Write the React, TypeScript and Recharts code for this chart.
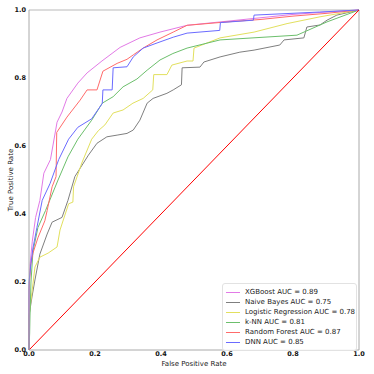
import { LineChart, Line, XAxis, YAxis, ReferenceLine } from 'recharts';

// ROC points as [false positive rate, true positive rate]
const xgboost = [
  [0, 0], [0, 0.15], [0.003, 0.25], [0.01, 0.32], [0.02, 0.39], [0.033, 0.44], [0.045, 0.52],
  [0.065, 0.56], [0.085, 0.67], [0.1, 0.7], [0.115, 0.74], [0.148, 0.785], [0.176, 0.815],
  [0.221, 0.85], [0.276, 0.89], [0.336, 0.918], [0.397, 0.935], [0.479, 0.955], [0.6, 0.967],
  [0.7, 0.977], [0.8, 0.987], [0.9, 0.994], [1, 1],
];
const naiveBayes = [
  [0, 0], [0, 0.1], [0.009, 0.156], [0.018, 0.206], [0.033, 0.282], [0.055, 0.341], [0.07, 0.376],
  [0.1, 0.39], [0.118, 0.44], [0.139, 0.51], [0.165, 0.55], [0.18, 0.573], [0.206, 0.608],
  [0.236, 0.627], [0.267, 0.632], [0.297, 0.637], [0.316, 0.647], [0.336, 0.676], [0.358, 0.726],
  [0.376, 0.74], [0.418, 0.755], [0.437, 0.765], [0.462, 0.78], [0.464, 0.83], [0.518, 0.832],
  [0.53, 0.847], [0.579, 0.862], [0.639, 0.876], [0.682, 0.882], [0.76, 0.897], [0.773, 0.912],
  [0.833, 0.918], [0.842, 0.95], [0.882, 0.956], [0.903, 0.97], [0.933, 0.985], [1, 1],
];
const logistic = [
  [0, 0], [0, 0.1], [0.009, 0.17], [0.018, 0.244], [0.033, 0.273], [0.058, 0.285], [0.085, 0.303],
  [0.094, 0.353], [0.12, 0.43], [0.133, 0.435], [0.135, 0.48], [0.16, 0.55], [0.19, 0.62],
  [0.21, 0.645], [0.23, 0.662], [0.255, 0.697], [0.285, 0.706], [0.315, 0.726], [0.346, 0.74],
  [0.375, 0.765], [0.378, 0.81], [0.418, 0.81], [0.433, 0.838], [0.479, 0.85], [0.497, 0.85],
  [0.5, 0.888], [0.579, 0.918], [0.682, 0.935], [0.782, 0.96], [0.882, 0.98], [1, 1],
];
const knn = [
  [0, 0], [0.002, 0.05], [0.003, 0.1], [0.006, 0.2], [0.012, 0.29], [0.027, 0.36], [0.05, 0.41],
  [0.088, 0.5], [0.118, 0.568], [0.148, 0.62], [0.19, 0.676], [0.222, 0.726], [0.255, 0.745],
  [0.285, 0.774], [0.327, 0.797], [0.358, 0.823], [0.397, 0.853], [0.436, 0.872], [0.479, 0.888],
  [0.579, 0.912], [0.812, 0.926], [0.903, 0.965], [1, 1],
];
const randomForest = [
  [0, 0], [0, 0.18], [0.005, 0.25], [0.012, 0.285], [0.027, 0.33], [0.048, 0.38], [0.055, 0.41],
  [0.07, 0.48], [0.082, 0.51], [0.084, 0.64], [0.115, 0.685], [0.155, 0.735], [0.176, 0.765],
  [0.206, 0.765], [0.224, 0.82], [0.267, 0.843], [0.297, 0.855], [0.316, 0.868], [0.346, 0.888],
  [0.388, 0.912], [0.437, 0.935], [0.479, 0.955], [0.6, 0.965], [0.7, 0.972], [0.8, 0.982],
  [0.9, 0.99], [1, 1],
];
const dnn = [
  [0, 0], [0, 0.2], [0.006, 0.255], [0.012, 0.3], [0.024, 0.36], [0.04, 0.44], [0.064, 0.49],
  [0.09, 0.56], [0.12, 0.62], [0.148, 0.655], [0.19, 0.68], [0.222, 0.725], [0.224, 0.765],
  [0.252, 0.765], [0.255, 0.83], [0.297, 0.833], [0.316, 0.862], [0.346, 0.888], [0.388, 0.903],
  [0.437, 0.92], [0.479, 0.932], [0.578, 0.94], [0.58, 0.963], [0.68, 0.97], [0.682, 0.985],
  [0.88, 0.994], [1, 1],
];
const chance = [[0, 0], [1, 1]];

const modelNames = [
  'XGBoost AUC = 0.89',
  'Naive Bayes AUC = 0.75',
  'Logistic Regression AUC = 0.78',
  'k-NN AUC = 0.81',
  'Random Forest AUC = 0.87',
  'DNN AUC = 0.85',
];
const ticks = [0, 0.2, 0.4, 0.6, 0.8, 1];

const colors = ['#e27ae6', '#7f7f7f', '#e2e05e', '#6cbf6c', '#ff6b6b', '#6b6bff'];
const curves = [xgboost, naiveBayes, logistic, knn, randomForest, dnn].map((pts) =>
  pts.map(([x, y]) => ({ x, y }))
);

const font = 'DejaVu Sans, sans-serif';
const tickStyle = { fontSize: 6.5, fontWeight: 'bold', fill: '#111', fontFamily: font };

export default function App() {
  return (
    <div style={{ position: 'absolute', left: 0, top: 0, width: 374, height: 374, background: '#fff' }}>
      <LineChart width={374} height={374} margin={{ top: 10, right: 15, bottom: 0, left: 0 }}>
        <XAxis
          type="number"
          dataKey="x"
          domain={[0, 1]}
          ticks={ticks}
          tickFormatter={(v: number) => v.toFixed(1)}
          tick={tickStyle}
          tickLine={false}
          tickSize={0}
          tickMargin={1}
          height={24}
          stroke="#aaa"
          allowDuplicatedCategory={false}
          label={{ value: 'False Positive Rate', position: 'insideBottom', offset: 8, fontSize: 7, fill: '#222', fontFamily: font }}
        />
        <YAxis
          type="number"
          dataKey="y"
          domain={[0, 1]}
          ticks={ticks}
          tickFormatter={(v: number) => v.toFixed(1)}
          tick={tickStyle}
          tickLine={false}
          tickSize={0}
          tickMargin={3}
          width={29}
          stroke="#aaa"
          label={{ value: 'True Positive Rate', angle: -90, position: 'insideLeft', offset: 11, fontSize: 7, fill: '#222', fontFamily: font, style: { textAnchor: 'middle' } }}
        />
        <ReferenceLine y={1} stroke="#dcdcdc" strokeWidth={2} />
        <ReferenceLine x={1} stroke="#aaa" />
        {curves.map((data, i) => (
          <Line
            key={modelNames[i]}
            data={data}
            dataKey="y"
            name={modelNames[i]}
            type="linear"
            stroke={colors[i]}
            strokeWidth={1}
            dot={false}
            isAnimationActive={false}
          />
        ))}
        <Line
          data={chance.map(([x, y]) => ({ x, y }))}
          dataKey="y"
          legendType="none"
          type="linear"
          stroke="#ff0000"
          strokeWidth={1}
          dot={false}
          isAnimationActive={false}
        />
      </LineChart>
      <div
        style={{
          position: 'absolute',
          left: 222,
          top: 283,
          width: 135,
          boxSizing: 'border-box',
          border: '1px solid #e2e2e2',
          borderRadius: 3,
          background: 'rgba(255,255,255,0.85)',
          padding: '3px 0 3px 3px',
          fontFamily: font,
          fontSize: 7,
          color: '#222',
        }}
      >
        {modelNames.map((name, i) => (
          <div key={name} style={{ display: 'flex', alignItems: 'center', height: 10 }}>
            <span
              style={{ width: 14, height: 0, borderTop: `1px solid ${colors[i]}`, marginRight: 5, flexShrink: 0 }}
            />
            <span style={{ whiteSpace: 'nowrap' }}>{name}</span>
          </div>
        ))}
      </div>
    </div>
  );
}
